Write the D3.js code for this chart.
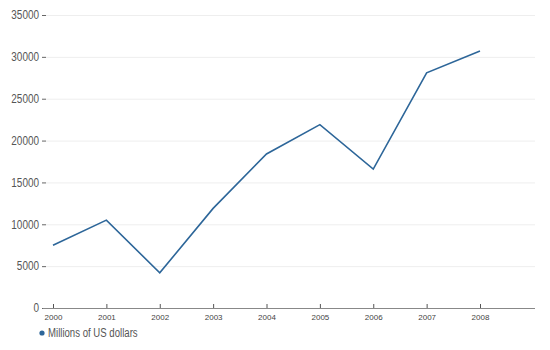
<!DOCTYPE html>
<html><head><meta charset="utf-8">
<script src="https://cdn.jsdelivr.net/npm/d3@7"></script>
<style>body{margin:0;background:#fff;}svg{display:block;font-family:"Liberation Sans",Arial,sans-serif;}</style>
</head><body><svg id="c" width="550" height="350"></svg>
<script>
const years = ["2000","2001","2002","2003","2004","2005","2006","2007","2008"];
const values = [7500, 10500, 4200, 11900, 18400, 21900, 16600, 28100, 30700];
const yTicks = [0, 5000, 10000, 15000, 20000, 25000, 30000, 35000];
const seriesName = "Millions of US dollars";

const svg = d3.select("#c");
const mLeft = 46, mRight = 535, mTop = 15, mBottom = 308;
const x = d3.scalePoint().domain(years).range([53, 480]);
const y = d3.scaleLinear().domain([0, 35000]).range([mBottom, mTop]);
const font = "'Liberation Sans', Arial, sans-serif";
function condense(sel, k) {
  sel.each(function() {
    const w = this.getComputedTextLength();
    d3.select(this).attr("textLength", w * k).attr("lengthAdjust", "spacingAndGlyphs");
  });
}

// gridlines
svg.append("g").selectAll("line").data(yTicks.filter(d => d > 0)).join("line")
  .attr("x1", mLeft).attr("x2", mRight)
  .attr("y1", d => y(d) + 0.5).attr("y2", d => y(d) + 0.5)
  .attr("stroke", "#eeeeee").attr("stroke-width", 1);

// y axis labels with small ticks
const ya = svg.append("g").attr("transform", `translate(${mLeft},0)`)
  .call(d3.axisLeft(y).tickValues(yTicks).tickSize(4).tickPadding(3).tickFormat(d3.format("d")));
ya.select(".domain").remove();
ya.selectAll("line").attr("stroke", "#666");
ya.selectAll("text").attr("fill", "#555").style("font-size", "12px").style("font-family", font)
  .call(condense, 0.83);

// x axis
const xa = svg.append("g").attr("transform", `translate(0,${mBottom})`)
  .call(d3.axisBottom(x).tickSize(-4).tickPadding(6).tickSizeOuter(0));
xa.select(".domain").attr("d", `M${mLeft - 3},0.5H${mRight}`).attr("stroke", "#888");
xa.selectAll("line").attr("stroke", "#555");
xa.selectAll("text").attr("fill", "#444").style("font-size", "8px").style("font-family", font);

// line
svg.append("path").datum(values)
  .attr("fill", "none").attr("stroke", "#2d6699").attr("stroke-width", 1.6)
  .attr("stroke-linejoin", "miter")
  .attr("d", d3.line().x((d, i) => x(years[i])).y(d => y(d)));

// legend
const lg = svg.append("g").attr("transform", "translate(42,333)");
lg.append("circle").attr("r", 2.6).attr("fill", "#2d6699");
lg.append("text").attr("x", 6).attr("dy", "0.35em").attr("fill", "#555")
  .style("font-size", "12px").style("font-family", font).text(seriesName)
  .call(condense, 0.8);
</script></body></html>
